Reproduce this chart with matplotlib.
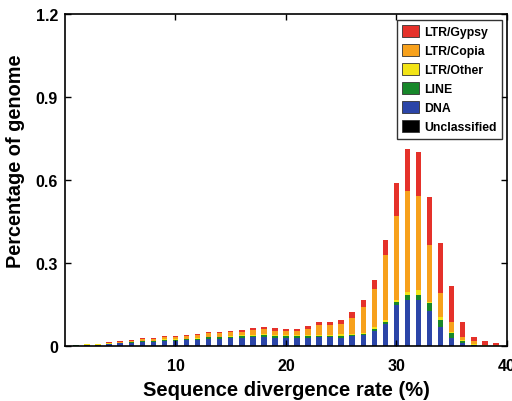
import numpy as np
import matplotlib
matplotlib.use("Agg")
import matplotlib.pyplot as plt

# divergence bins (%)
divergence = list(range(1, 40))

# percentage of genome per bin, one list per repeat class
dna = [0.0015, 0.004, 0.004, 0.007, 0.009, 0.011, 0.014, 0.014, 0.018, 0.018,
       0.020, 0.022, 0.026, 0.026, 0.028, 0.029, 0.031, 0.032, 0.030, 0.029,
       0.029, 0.028, 0.031, 0.031, 0.030, 0.035, 0.040, 0.055, 0.080, 0.146,
       0.167, 0.167, 0.124, 0.067, 0.029, 0.010, 0.003, 0.001, 0.0005]
line = [0.0003, 0.001, 0.001, 0.001, 0.002, 0.002, 0.003, 0.003, 0.004, 0.004,
        0.004, 0.004, 0.005, 0.005, 0.006, 0.006, 0.006, 0.007, 0.006, 0.006,
        0.008, 0.008, 0.006, 0.006, 0.007, 0.005, 0.004, 0.006, 0.006, 0.012,
        0.016, 0.017, 0.031, 0.028, 0.017, 0.006, 0.002, 0.0005, 0.0]
ltr_other = [0.0002, 0.0005, 0.0005, 0.001, 0.001, 0.001, 0.0015, 0.0015, 0.002, 0.002,
             0.002, 0.002, 0.003, 0.003, 0.003, 0.003, 0.003, 0.004, 0.003, 0.003,
             0.003, 0.004, 0.004, 0.004, 0.006, 0.004, 0.004, 0.006, 0.006, 0.006,
             0.010, 0.016, 0.005, 0.008, 0.006, 0.005, 0.002, 0.0005, 0.0]
ltr_copia = [0.0007, 0.0015, 0.0015, 0.0025, 0.003, 0.005, 0.006, 0.006, 0.007, 0.007,
             0.009, 0.010, 0.012, 0.012, 0.012, 0.013, 0.016, 0.017, 0.016, 0.015,
             0.015, 0.021, 0.035, 0.035, 0.037, 0.057, 0.092, 0.137, 0.235, 0.305,
             0.368, 0.343, 0.206, 0.087, 0.034, 0.010, 0.009, 0.003, 0.0015]
ltr_gypsy = [0.0003, 0.001, 0.001, 0.0015, 0.002, 0.003, 0.0035, 0.0035, 0.004, 0.004,
             0.005, 0.005, 0.006, 0.006, 0.006, 0.007, 0.008, 0.008, 0.008, 0.008,
             0.006, 0.010, 0.010, 0.012, 0.012, 0.023, 0.027, 0.036, 0.057, 0.121,
             0.151, 0.159, 0.171, 0.182, 0.132, 0.057, 0.015, 0.011, 0.009]
unclassified = [0.0, 0.0, 0.0, 0.0, 0.0, 0.0, 0.0, 0.0, 0.0, 0.0,
                0.0, 0.0, 0.0, 0.0, 0.0, 0.0, 0.0, 0.0, 0.0, 0.0,
                0.0, 0.0, 0.0, 0.0, 0.0, 0.0, 0.0, 0.0, 0.0005, 0.0005,
                0.0005, 0.0005, 0.0005, 0.0, 0.0, 0.0, 0.0, 0.0, 0.0]

# bottom to top stacking order
series = [
    ("Unclassified", unclassified, "#000000"),
    ("DNA", dna, "#2b45a8"),
    ("LINE", line, "#17872a"),
    ("LTR/Other", ltr_other, "#f2e416"),
    ("LTR/Copia", ltr_copia, "#f7a11c"),
    ("LTR/Gypsy", ltr_gypsy, "#e5312a"),
]

plt.rcParams["font.family"] = ["Liberation Sans", "DejaVu Sans"]
plt.rcParams["font.weight"] = "bold"

fig = plt.figure(figsize=(5.12, 4.02), dpi=100)
ax = fig.add_axes([0.127, 0.137, 0.863, 0.826])

bottom = np.zeros(len(divergence))
for name, vals, color in series:
    vals = np.array(vals)
    ax.bar(divergence, vals, width=0.5, bottom=bottom, color=color,
           linewidth=0, label=name)
    bottom += vals

# legend listed top-down, as in the figure
order = ["LTR/Gypsy", "LTR/Copia", "LTR/Other", "LINE", "DNA", "Unclassified"]
colors = {nm: c for nm, _, c in series}
leg_handles = [plt.Rectangle((0, 0), 1, 1, facecolor=colors[n], edgecolor="#333333",
                             linewidth=0.6) for n in order]
leg = ax.legend(leg_handles, order, loc="upper right", frameon=True, fancybox=False,
                edgecolor="black", handlelength=1.35, handleheight=1.05,
                handletextpad=0.45, labelspacing=0.5, borderpad=0.45,
                prop={"weight": "bold", "size": 8.8},
                bbox_to_anchor=(1.003, 1.0))
leg.get_frame().set_linewidth(1.0)

ax.set_xlim(0, 40)
ax.set_ylim(0, 1.2)
ax.set_xticks([10, 20, 30, 40])
ax.set_yticks([0, 0.3, 0.6, 0.9, 1.2])
ax.set_yticklabels(["0", "0.3", "0.6", "0.9", "1.2"])
ax.tick_params(direction="in", top=True, right=True, length=4, width=1,
               labelsize=11.5, pad=5)
ax.tick_params(axis="x", pad=9)
for lbl in ax.get_xticklabels() + ax.get_yticklabels():
    lbl.set_fontweight("bold")
for sp in ax.spines.values():
    sp.set_linewidth(1.2)

ax.set_xlabel("Sequence divergence rate (%)", fontsize=14.5, fontweight="bold", labelpad=5)
ax.set_ylabel("Percentage of genome", fontsize=14.3, fontweight="bold")
ax.yaxis.set_label_coords(-0.091, 0.56)

fig.savefig("out.png", dpi=100)
